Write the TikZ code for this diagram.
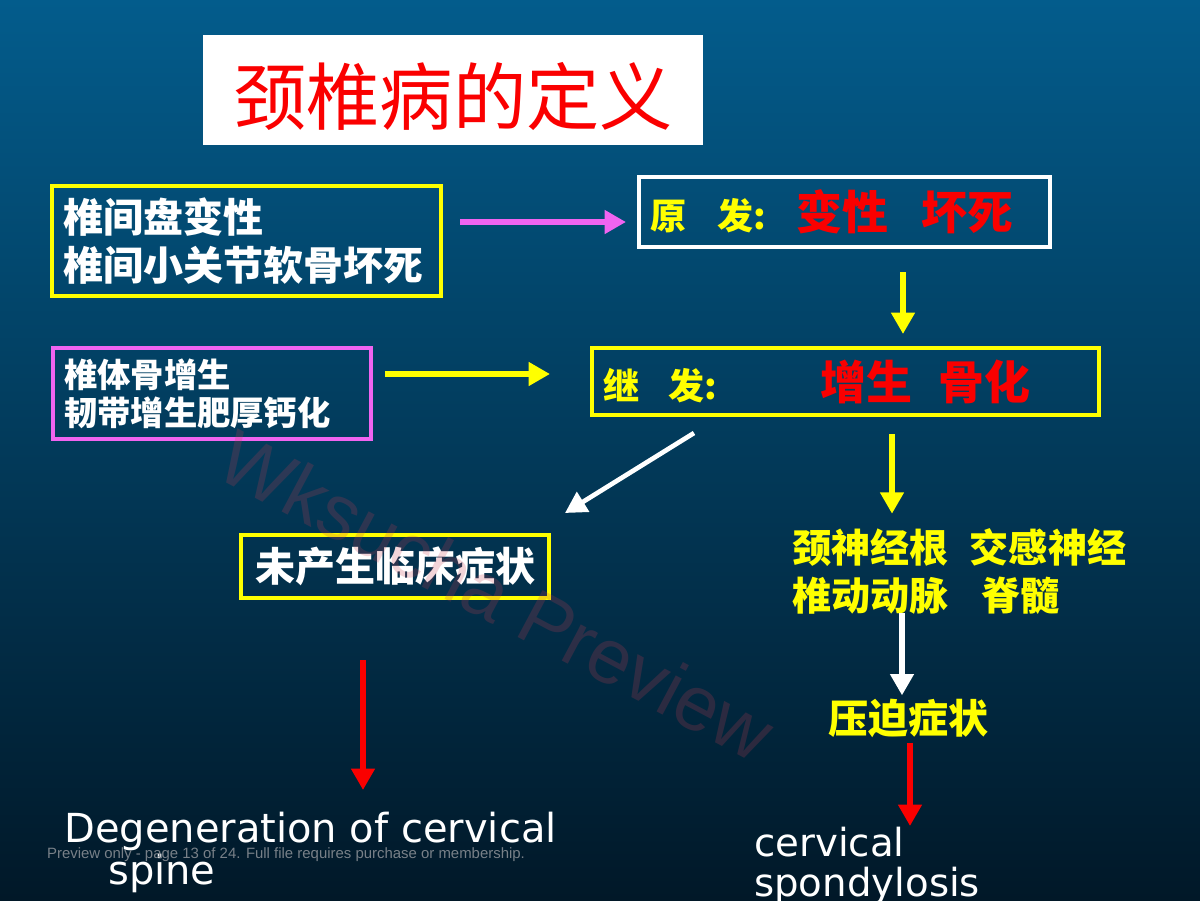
\documentclass[tikz,border=0pt]{standalone}
\usepackage{fontspec}
\usepackage{tikz}
\usetikzlibrary{arrows.meta}
\setmainfont{DejaVu Sans}
\newfontfamily\cjk{Noto Sans CJK SC}
\newfontfamily\prevfont{Liberation Sans}
\definecolor{bgtop}{RGB}{3,92,140}
\definecolor{bgbot}{RGB}{1,24,40}
\definecolor{hlred}{RGB}{250,0,0}
\definecolor{hlyellow}{RGB}{255,255,0}
\definecolor{hlpink}{RGB}{240,100,240}

\tikzset{
  box/.style={draw, line width=3pt, inner sep=0pt, text=white},
  conn/.style={line width=5pt, -{Triangle[length=16pt,width=17pt]}},
}

\begin{document}
\begin{tikzpicture}[x=0.75pt,y=0.75pt,yscale=-1,xscale=1]
\useasboundingbox (0,0) rectangle (1200,900);
\clip (0,0) rectangle (1200,900);
%Background
\shade [top color=bgtop, bottom color=bgbot] (0,0) rectangle (1200,900);

% Title
\draw (453,90) node [fill=white, minimum width=375pt, minimum height=82.5pt, text height=55pt, text depth=4pt, text=hlred, font=\cjk\fontsize{55}{60}\selectfont] (title) {颈椎病的定义};

% Boxes
\draw (246.5,241) node [box, draw=hlyellow, minimum width=291.75pt, minimum height=82.5pt, text width=274pt, align=left, font=\cjk\bfseries\fontsize{30}{36}\selectfont] (disc) {椎间盘变性\\椎间小关节软骨坏死};
\draw (844.5,212) node [box, draw=white, minimum width=308.25pt, minimum height=52.5pt, text width=291.75pt, align=left, font=\cjk\bfseries] (primary) {{\fontsize{27}{30}\selectfont\color{hlyellow}原\hspace{24pt}发:}\hspace{22.5pt}{\fontsize{34.5}{40}\selectfont\color{hlred}变性\hspace{25pt}坏死}};
\draw (212,393.5) node [box, draw=hlpink, minimum width=238.5pt, minimum height=68.25pt, text width=222pt, align=left, font=\cjk\bfseries\fontsize{25}{28.5}\selectfont] (spur) {椎体骨增生\\韧带增生肥厚钙化};
\draw (845.5,381.5) node [box, draw=hlyellow, minimum width=380.25pt, minimum height=50.25pt, text width=363.75pt, align=left, font=\cjk\bfseries] (secondary) {{\fontsize{27}{30}\selectfont\color{hlyellow}继\hspace{22.5pt}发:}\hspace{77.5pt}{\fontsize{34.5}{40}\selectfont\color{hlred}增生\hspace{19pt}骨化}};
\draw (395,566.5) node [box, draw=hlyellow, minimum width=231pt, minimum height=47.25pt, font=\cjk\bfseries\fontsize{30}{36}\selectfont] (nosym) {未产生临床症状};

% Text Node
\draw (792,572) node [anchor=west, inner sep=0pt, align=left, text=hlyellow, font=\cjk\bfseries\fontsize{29.3}{36}\selectfont] (nerves) {颈神经根\hspace{16pt}交感神经\\椎动动脉\hspace{25pt}脊髓};
% Text Node
\draw (908,718) node [inner sep=0pt, text=hlyellow, font=\cjk\bfseries\fontsize{30}{36}\selectfont] (press) {压迫症状};
% Text Node
\draw (64,812) node [anchor=north west, inner sep=0pt, align=left, text=white, font=\fontsize{30}{31}\selectfont] (degen) {Degeneration of cervical\\\hspace{33pt}spine};
% Text Node
\draw (754,827) node [anchor=north west, inner sep=0pt, align=left, text=white, font=\fontsize{29}{30}\selectfont] (spond) {cervical\\spondylosis};

%Arrows
\draw [conn, hlpink] ([shift={(17,-19)}]disc.east) -- ([shift={(-11,10)}]primary.west);
\draw [conn, hlyellow] ([shift={(58.5,23)}]primary.south) -- ([shift={(57.5,-12)}]secondary.north);
\draw [conn, hlyellow] ([shift={(12,-19.5)}]spur.east) -- ([shift={(-40,-7.5)}]secondary.west);
\draw [conn, white, line width=3.5pt] ([shift={(-151.5,16)}]secondary.south) -- ([shift={(14,-20)}]nosym.north east);
\draw [conn, hlyellow] ([shift={(46.5,17)}]secondary.south) -- ([shift={(100,-15)}]nerves.north west);
\draw [conn, white] ([shift={(110,-2)}]nerves.south west) -- ([shift={(-6,-3)}]press.north);
\draw [conn, hlred] ([shift={(2,5)}]press.south) -- ([shift={(156,-1)}]spond.north west);
\draw [conn, hlred] ([shift={(-32,60)}]nosym.south) -- ([shift={(299,-22)}]degen.north west);

% Preview marks
\draw (286,855) node [text={rgb,255:red,120;green,128;blue,136}, font=\prevfont\fontsize{11.2}{12}\selectfont] (note) {Preview only - page 13 of 24. Full file requires purchase or membership.};
\draw (497,595) node [rotate=-28, text={rgb,255:red,200;green,60;blue,80}, text opacity=0.22, font=\prevfont\fontsize{58}{60}\selectfont] (wmark) {Wksucha Preview};

\end{tikzpicture}
\end{document}
